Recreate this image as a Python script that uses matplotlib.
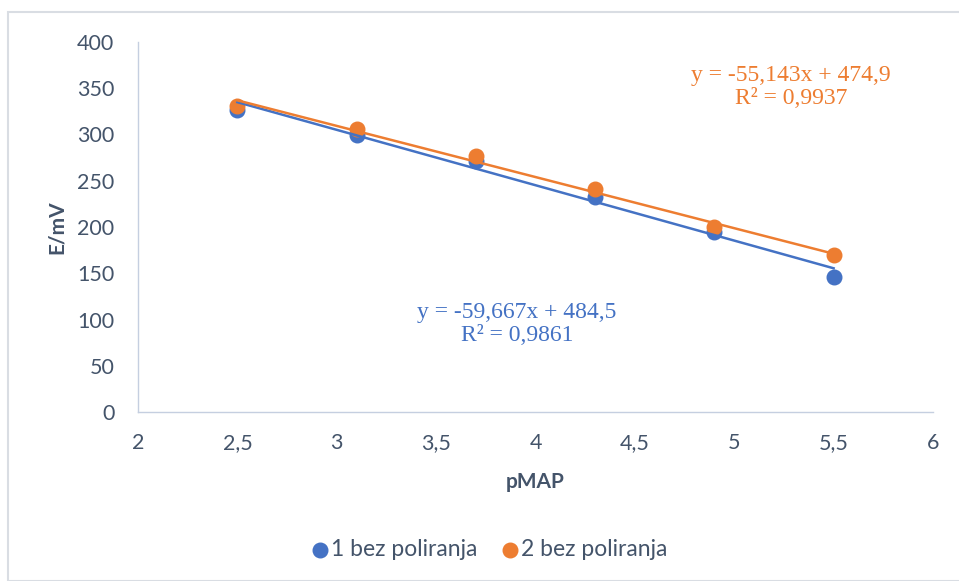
import numpy as np
import matplotlib
matplotlib.use("Agg")
import matplotlib.pyplot as plt
from matplotlib.patches import Rectangle

pMAP = [2.5, 3.1, 3.7, 4.3, 4.9, 5.5]
series1_name = "1 bez poliranja"
series2_name = "2 bez poliranja"
E1 = [326.5, 299.5, 271.7, 232.8, 194.9, 145.6]
E2 = [330.8, 305.9, 276.8, 241.4, 199.7, 169.4]
eq1 = "y = -59,667x + 484,5\nR² = 0,9861"
eq2 = "y = -55,143x + 474,9\nR² = 0,9937"
xticks = [2, 2.5, 3, 3.5, 4, 4.5, 5, 5.5, 6]
yticks = [0, 50, 100, 150, 200, 250, 300, 350, 400]

blue = "#4472C4"
orange = "#ED7D31"
txt = "#44546A"

plt.rcParams['font.family'] = ['Lato', 'DejaVu Sans']

fig = plt.figure(figsize=(9.59, 5.81), dpi=100)
fig.patches.append(Rectangle((8/959, 0), 1, 1 - 12/581, transform=fig.transFigure,
                             fill=False, edgecolor="#d9dde3", lw=1.5))
ax = fig.add_axes([138/959, 1 - 412/581, (933 - 138)/959, (412 - 42)/581])

ax.scatter(pMAP, E1, s=110, color=blue, zorder=3, label=series1_name)
ax.scatter(pMAP, E2, s=110, color=orange, zorder=4, label=series2_name)

x = np.array(pMAP)
for E, c in [(E1, blue), (E2, orange)]:
    m, b = np.polyfit(x, E, 1)
    xs = np.array([x.min(), x.max()])
    ax.plot(xs, m * xs + b, color=c, lw=1.8, zorder=5)

ax.set_xlim(2, 6)
ax.set_ylim(0, 400)
ax.set_xticks(xticks)
ax.set_xticklabels([str(t).replace('.', ',') for t in xticks])
ax.set_yticks(yticks)
ax.tick_params(length=0, labelsize=15.5, labelcolor=txt)
ax.tick_params(axis='x', pad=15)
ax.tick_params(axis='y', pad=17)
for s in ["top", "right"]:
    ax.spines[s].set_visible(False)
for s in ["left", "bottom"]:
    ax.spines[s].set_color("#c5cfe0")
    ax.spines[s].set_linewidth(1)

ax.set_xlabel("pMAP", fontsize=15, fontweight="bold", color=txt, labelpad=14)
ax.set_ylabel("E/mV", fontsize=15, fontweight="bold", color=txt, labelpad=7)

ax.text(5.286, 351.4, eq2, color=orange, fontsize=17, ha="center", va="center",
        family=["Liberation Serif"], linespacing=1.1)
ax.text(3.907, 95.1, eq1, color=blue, fontsize=17, ha="center", va="center",
        family=["Liberation Serif"], linespacing=1.1)

fig.legend(loc="center", bbox_to_anchor=(0.5 + 9/959, 1 - 550/581), ncol=2, frameon=False,
           fontsize=16.5, labelcolor=txt, handletextpad=0.0, columnspacing=1.0,
           handlelength=0.9, markerscale=1.0)

fig.savefig("out.png", dpi=100)
